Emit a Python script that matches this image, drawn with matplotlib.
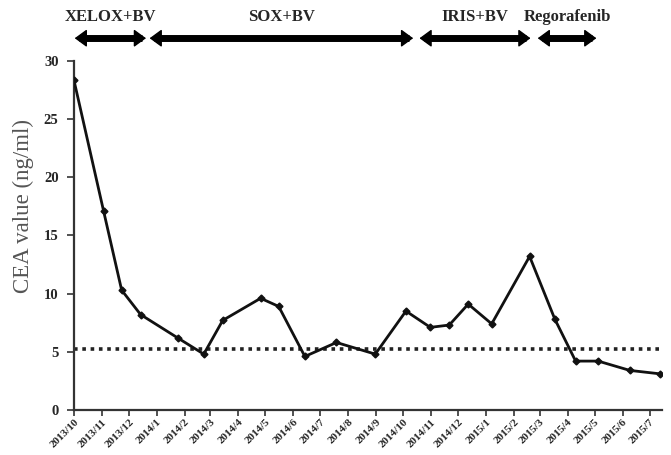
import matplotlib
matplotlib.use("Agg")
import matplotlib.pyplot as plt
import matplotlib.dates as mdates
import matplotlib.transforms as mtransforms
from datetime import datetime

# CEA measurements
dates = ["2013-10-01", "2013-11-03", "2013-11-23", "2013-12-14", "2014-01-24",
         "2014-02-22", "2014-03-15", "2014-04-26", "2014-05-16", "2014-06-14",
         "2014-07-19", "2014-08-31", "2014-10-04", "2014-10-31", "2014-11-21",
         "2014-12-12", "2015-01-07", "2015-02-18", "2015-03-18", "2015-04-10",
         "2015-05-05", "2015-06-09", "2015-07-13"]
cea = [28.4, 17.1, 10.3, 8.2, 6.2, 4.8, 7.7, 9.6, 8.9, 4.6, 5.8, 4.8, 8.5,
       7.1, 7.3, 9.1, 7.4, 13.2, 7.8, 4.2, 4.2, 3.4, 3.1]
cutoff = 5.2

# treatment periods
regimens = ["XELOX+BV", "SOX+BV", "IRIS+BV", "Regorafenib"]
reg_start = ["2013-10-02", "2013-12-24", "2014-10-19", "2015-02-27"]
reg_end = ["2013-12-20", "2014-10-12", "2015-02-19", "2015-05-03"]

tick_months = ["2013/10", "2013/11", "2013/12", "2014/1", "2014/2", "2014/3",
               "2014/4", "2014/5", "2014/6", "2014/7", "2014/8", "2014/9",
               "2014/10", "2014/11", "2014/12", "2015/1", "2015/2", "2015/3",
               "2015/4", "2015/5", "2015/6", "2015/7"]

def d(s):
    return datetime.strptime(s, "%Y-%m-%d")

serif = "Liberation Serif"
dark = "#262626"

fig = plt.figure(figsize=(6.71, 4.55), dpi=100)
ax = fig.add_axes([0.110, 0.099, 0.877, 0.767])

x = [d(s) for s in dates]
ax.plot(x, cea, color="#111111", lw=2, marker="D", ms=3.5, mfc="#111111", mec="#111111", zorder=3)

ax.axhline(cutoff, color="#222222", lw=2.6, linestyle=(0, (1, 1.3)), zorder=2)

ax.set_xlim(d("2013-10-01"), d("2015-07-15"))
ax.set_ylim(0, 30)
ax.set_yticks([0, 5, 10, 15, 20, 25, 30])

ticks = [datetime.strptime(t, "%Y/%m") for t in tick_months]
ax.set_xticks(ticks)
ax.set_xticklabels(tick_months, rotation=45, ha="right", va="top",
                   rotation_mode="anchor", fontfamily=serif, fontweight="bold",
                   fontsize=8.0, color=dark)
for lbl in ax.get_yticklabels():
    lbl.set_fontfamily(serif)
    lbl.set_fontweight("bold")
    lbl.set_fontsize(10.5)
    lbl.set_color(dark)

ax.spines["top"].set_visible(False)
ax.spines["right"].set_visible(False)
for s in ["left", "bottom"]:
    ax.spines[s].set_linewidth(1.6)
    ax.spines[s].set_color("#333333")
ax.tick_params(axis="y", direction="out", length=5, width=1.2, color="#333333", pad=6)
ax.tick_params(axis="x", direction="out", length=4, width=1.2, color="#333333", pad=1.5)

ax.set_ylabel("CEA value (ng/ml)", fontfamily=serif, fontsize=16.5, color="#555555")
ax.yaxis.set_label_coords(-0.068, 0.585)

# treatment arrows above the plot
blend = mtransforms.blended_transform_factory(ax.transData, fig.transFigure)
arrow_y = 0.916
for name, s, e in zip(regimens, reg_start, reg_end):
    xs, xe = mdates.date2num(d(s)), mdates.date2num(d(e))
    ax.annotate("", xy=(xe, arrow_y), xytext=(xs, arrow_y),
                xycoords=blend, textcoords=blend,
                arrowprops=dict(arrowstyle="<|-|>,head_length=0.75,head_width=0.55",
                                mutation_scale=10, lw=1, color="black",
                                shrinkA=0, shrinkB=0),
                annotation_clip=False)
    ax.plot([xs + 5, xe - 5], [arrow_y, arrow_y], transform=blend, color="black",
            lw=5, solid_capstyle="butt", clip_on=False)
    ax.text((xs + xe) / 2, 0.963, name, transform=blend, ha="center", va="center",
            fontfamily=serif, fontweight="bold", fontsize=12, color=dark)

fig.savefig("out.png", dpi=100)
